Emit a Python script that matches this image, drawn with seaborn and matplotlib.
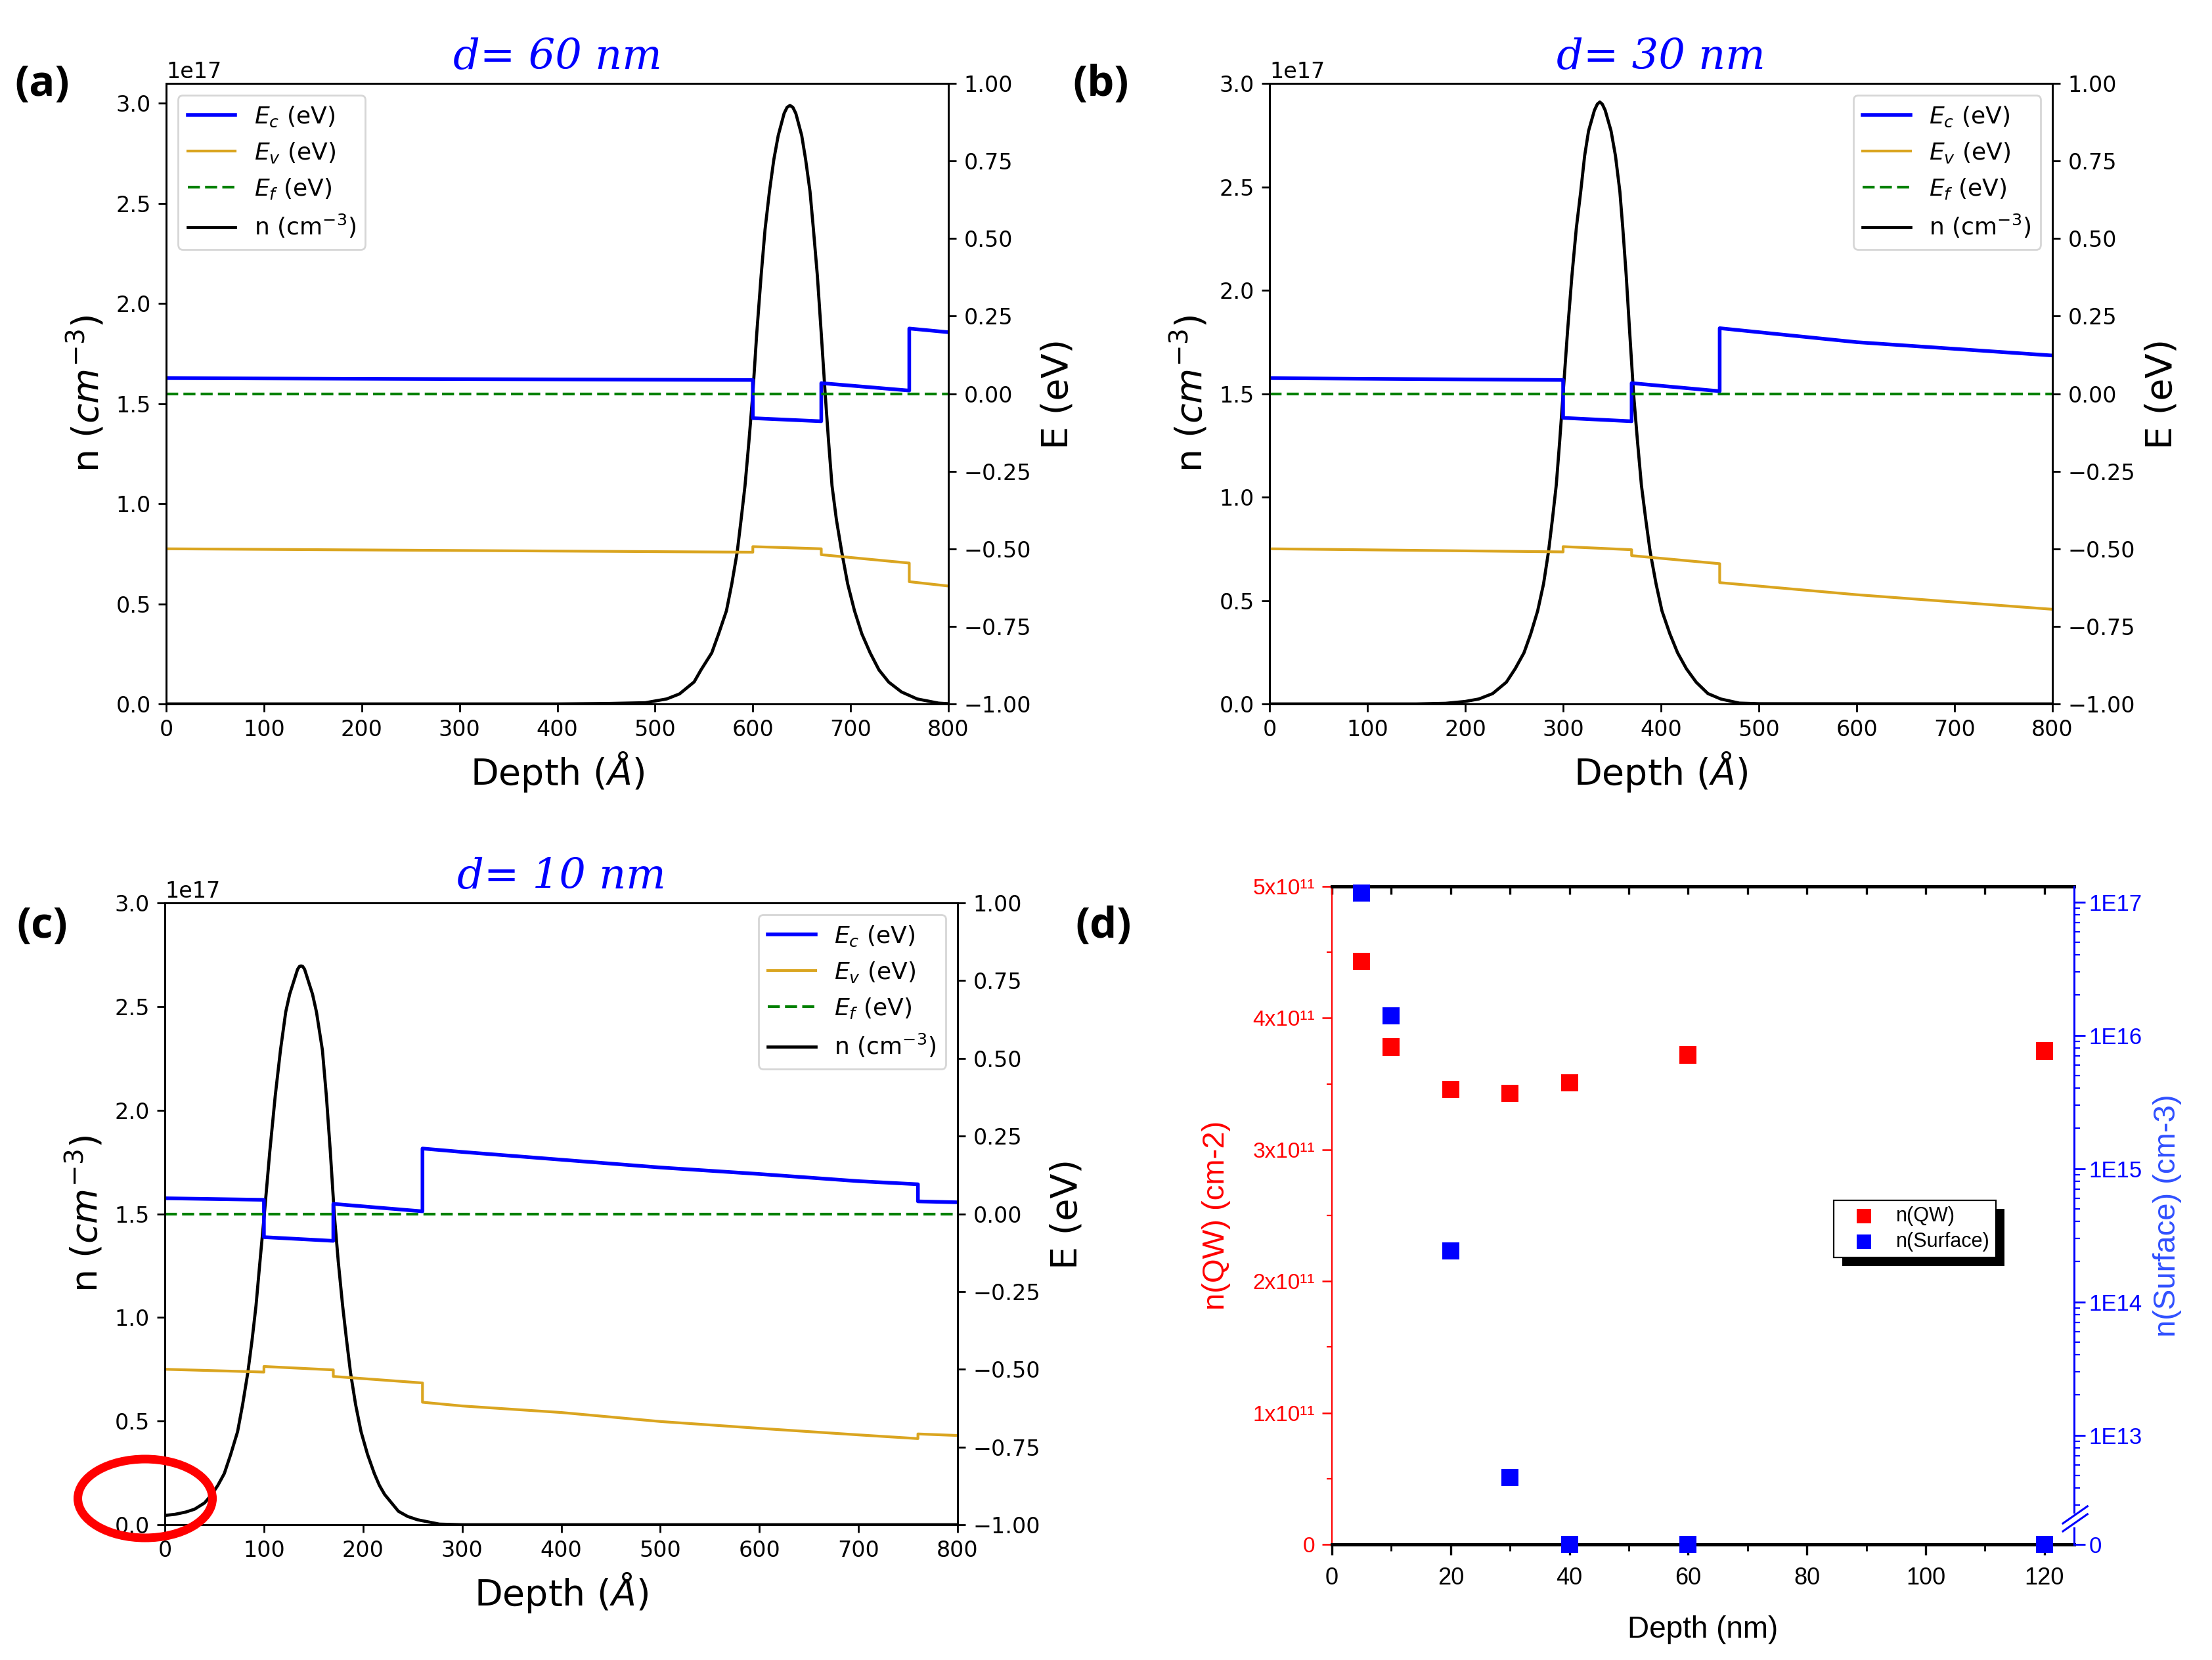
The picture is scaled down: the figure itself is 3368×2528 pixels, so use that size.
import numpy as np
import matplotlib
matplotlib.use("Agg")
import matplotlib.pyplot as plt
import seaborn as sns
from matplotlib.patches import Ellipse, Rectangle
from matplotlib.ticker import MultipleLocator, FixedLocator, NullFormatter

# ---------------- data ----------------
# electron density n (in 1e17 cm^-3) vs depth (Angstrom)
depth_n_60 = [0, 400, 450, 490, 512, 525, 540, 547, 558, 565, 573, 578.5, 584, 588, 592, 596, 600, 604,
              608.5, 612.5, 617, 621.5, 626, 632, 635, 638, 641, 644, 650, 654, 658.5, 662, 666, 670,
              674, 677.5, 681, 685.5, 691, 697, 704, 711.5, 720, 729, 739, 752, 768, 790, 800]
n_60 = [0, 0, 0.002, 0.006, 0.025, 0.05, 0.11, 0.17, 0.255, 0.35, 0.465, 0.6, 0.758, 0.92, 1.09, 1.31, 1.55, 1.85,
        2.14, 2.37, 2.56, 2.72, 2.84, 2.95, 2.98, 2.99, 2.98, 2.95, 2.84, 2.72, 2.56, 2.37, 2.14, 1.85,
        1.55, 1.31, 1.09, 0.92, 0.758, 0.6, 0.465, 0.35, 0.255, 0.17, 0.109, 0.06, 0.025, 0.004, 0.001]

depth_n_30 = [0, 150, 180, 200, 214, 228, 242, 251, 260, 267, 274, 280, 285, 289, 293, 296.5, 300, 304.5,
              309, 313.5, 318, 322, 326, 332, 335, 337.5, 340, 343, 349, 353.5, 358, 361, 364.5, 368,
              372, 376, 380, 384.5, 389, 395, 401, 409, 417, 426, 436, 448, 461, 480, 500, 800]
n_30 = [0, 0, 0.003, 0.012, 0.024, 0.05, 0.105, 0.17, 0.247, 0.34, 0.45, 0.58, 0.734, 0.89, 1.058, 1.27, 1.50, 1.80,
        2.07, 2.30, 2.477, 2.65, 2.77, 2.87, 2.90, 2.91, 2.90, 2.87, 2.77, 2.65, 2.477, 2.30, 2.07, 1.80,
        1.50, 1.27, 1.058, 0.89, 0.734, 0.58, 0.45, 0.34, 0.247, 0.17, 0.105, 0.05, 0.024, 0.004, 0.001, 0]

depth_n_10 = [0, 10, 21, 30, 40, 47.4, 53.5, 60, 66.5, 73.4, 78.5, 83.7, 88, 92, 96, 100.4, 105.9, 111.4,
              116.7, 122, 126, 130, 134, 136, 137.5, 139, 141, 145, 149, 153, 159, 163, 167, 171,
              175, 179.4, 183.4, 187.4, 192.5, 198, 204.5, 211.4, 216.5, 221.8, 235.7, 245, 255, 277, 300, 800]
n_10 = [0.045, 0.05, 0.061, 0.075, 0.105, 0.146, 0.19, 0.247, 0.34, 0.449, 0.58, 0.733, 0.89, 1.057, 1.27, 1.498, 1.80, 2.069,
        2.29, 2.474, 2.56, 2.62, 2.68, 2.694, 2.696, 2.694, 2.68, 2.62, 2.56, 2.474, 2.29, 2.069, 1.80, 1.498,
        1.27, 1.057, 0.89, 0.733, 0.58, 0.449, 0.34, 0.247, 0.19, 0.146, 0.065, 0.04, 0.024, 0.003, 0, 0]

# conduction / valence band edges (eV) vs depth (Angstrom)
depth_ec_60 = [0, 600, 600, 670, 670, 760, 760, 800]
ec_60 = [0.050, 0.044, -0.079, -0.089, 0.034, 0.010, 0.210, 0.198]
depth_ev_60 = [0, 600, 600, 670, 670, 760, 760, 800]
ev_60 = [-0.500, -0.511, -0.493, -0.500, -0.519, -0.546, -0.606, -0.620]

depth_ec_30 = [0, 300, 300, 370, 370, 460, 460, 600, 800]
ec_30 = [0.050, 0.044, -0.078, -0.089, 0.034, 0.008, 0.211, 0.166, 0.123]
depth_ev_30 = [0, 300, 300, 370, 370, 460, 460, 600, 800]
ev_30 = [-0.500, -0.510, -0.493, -0.503, -0.522, -0.548, -0.609, -0.648, -0.695]

depth_ec_10 = [0, 100, 100, 170, 170, 260, 260, 300, 400, 500, 600, 700, 760, 760, 800]
ec_10 = [0.050, 0.045, -0.075, -0.087, 0.032, 0.008, 0.210, 0.199, 0.174, 0.149, 0.128, 0.105, 0.095, 0.040, 0.037]
depth_ev_10 = [0, 100, 100, 170, 170, 260, 260, 300, 400, 500, 600, 700, 760, 760, 800]
ev_10 = [-0.500, -0.509, -0.491, -0.502, -0.523, -0.544, -0.606, -0.618, -0.639, -0.668, -0.690, -0.711, -0.723, -0.708, -0.713]

depth_ef = [0, 800]
ef = [0.0, 0.0]

# panel (d)
depth_nm = [5, 10, 20, 30, 40, 60, 120]
n_qw = [4.43e11, 3.78e11, 3.46e11, 3.43e11, 3.51e11, 3.72e11, 3.75e11]
n_surface = [1.17e17, 1.4e16, 2.4e14, 4.8e12, 0, 0, 0]

qw_ticks = [0, 1e11, 2e11, 3e11, 4e11, 5e11]
qw_labels = ["0", "1x10\u00b9\u00b9", "2x10\u00b9\u00b9", "3x10\u00b9\u00b9", "4x10\u00b9\u00b9", "5x10\u00b9\u00b9"]
surf_ticks = [0, 1e13, 1e14, 1e15, 1e16, 1e17]
surf_labels = ["0", "1E13", "1E14", "1E15", "1E16", "1E17"]

# ---------------- figure ----------------
W, H, DPI = 3368, 2528, 200
plt.rcParams['font.family'] = ['DejaVu Sans']
fig = plt.figure(figsize=(W / DPI, H / DPI), dpi=DPI)


def px_axes(l, r, t, b):
    return fig.add_axes([l / W, 1 - b / H, (r - l) / W, (b - t) / H])


band_panels = [
    (px_axes(253, 1444, 127, 1072), "d= 60 nm", 3.1, "upper left",
     depth_n_60, n_60, depth_ec_60, ec_60, depth_ev_60, ev_60),
    (px_axes(1933, 3125, 127, 1072), "d= 30 nm", 3.0, "upper right",
     depth_n_30, n_30, depth_ec_30, ec_30, depth_ev_30, ev_30),
    (px_axes(251, 1458, 1375, 2322), "d= 10 nm", 3.0, "upper right",
     depth_n_10, n_10, depth_ec_10, ec_10, depth_ev_10, ev_10),
]

for ax, title, ntop, legloc, xn, yn, xc, yc, xv, yv in band_panels:
    ax2 = ax.twinx()
    sns.lineplot(x=xn, y=np.array(yn) * 1e17, ax=ax, color="black", linewidth=1.7,
                 estimator=None, sort=False, legend=False)
    sns.lineplot(x=xc, y=yc, ax=ax2, color="blue", linewidth=2.0,
                 estimator=None, sort=False, legend=False)
    sns.lineplot(x=xv, y=yv, ax=ax2, color="goldenrod", linewidth=1.5,
                 estimator=None, sort=False, legend=False)
    sns.lineplot(x=depth_ef, y=ef, ax=ax2, color="green", linewidth=1.5, linestyle=(0, (4.4, 1.9)),
                 estimator=None, sort=False, legend=False)

    ax.set_xlim(0, 800)
    ax.set_ylim(0, ntop * 1e17)
    ax2.set_ylim(-1, 1)
    ax.xaxis.set_major_locator(MultipleLocator(100))
    ax2.yaxis.set_major_locator(MultipleLocator(0.25))
    for a in (ax, ax2):
        a.tick_params(labelsize=12, length=4.2, width=1.0, pad=4.2)
        for s in a.spines.values():
            s.set_linewidth(1.0)
    ax.yaxis.get_offset_text().set_fontsize(12)

    ax.set_xlabel(r"Depth ($\AA$)", fontsize=20, labelpad=4.8)
    ax.set_ylabel(r"n ($cm^{-3}$)", fontsize=20, labelpad=4.8)
    ax2.set_ylabel("E (eV)", fontsize=20, labelpad=4.8)
    ax.set_title(title, color="blue", fontsize=23, family="DejaVu Serif", style="italic", pad=8)

    handles = list(ax2.get_lines()) + [ax.get_lines()[0]]
    labels = [r"$E_c$ (eV)", r"$E_v$ (eV)", r"$E_f$ (eV)", r"n (cm$^{-3}$)"]
    ax2.legend(handles, labels, loc=legloc, fontsize=13)

# red circle around the surface density in (c)
fig.add_artist(Ellipse((221 / W, 1 - 2282 / H), width=205 / W, height=120 / H,
                       transform=fig.transFigure, fill=False, edgecolor="red", linewidth=4.7))

# ---------------- panel (d) ----------------
ZERO_POS = 12.18   # axis position (decades) of the "0" below the break
LIN_END = 12.40    # below 10**LIN_END the axis runs linearly to 0


def surf_fwd(v):
    v = np.asarray(v, dtype=float)
    top = 10 ** LIN_END
    logv = np.log10(np.where(v > top, v, top))
    return np.where(v > top, logv, ZERO_POS + v / top * (LIN_END - ZERO_POS))


def surf_inv(p):
    p = np.asarray(p, dtype=float)
    top = 10 ** LIN_END
    return np.where(p > LIN_END, 10 ** np.clip(p, None, 300),
                    (p - ZERO_POS) / (LIN_END - ZERO_POS) * top)


sans = "Liberation Sans"
axd = px_axes(2028, 3158, 1350, 2352)
axd2 = axd.twinx()
axd2.set_yscale("function", functions=(surf_fwd, surf_inv))

sns.scatterplot(x=depth_nm, y=n_qw, ax=axd, marker="s", color="red", s=88, edgecolor="none",
                label="n(QW)", legend=False, clip_on=False, zorder=6)
sns.scatterplot(x=depth_nm, y=n_surface, ax=axd2, marker="s", color="blue", s=88, edgecolor="none",
                label="n(Surface)", legend=False, clip_on=False, zorder=6)

axd.set_xlim(0, 125)
axd.set_ylim(0, 5e11)
axd2.set_ylim(0, 10 ** 17.116)

axd.set_xticks(range(0, 121, 20))
axd.xaxis.set_minor_locator(MultipleLocator(10))
axd.tick_params(axis="x", which="major", direction="out", length=5.8, width=1.2, labelsize=13,
                pad=6.5, labelfontfamily=sans)
axd.tick_params(axis="x", which="minor", direction="out", length=3.6, width=1.0)

axd.set_yticks(qw_ticks, qw_labels)
axd.yaxis.set_minor_locator(MultipleLocator(0.5e11))
axd.tick_params(axis="y", which="both", colors="red", direction="out", labelsize=12,
                labelfontfamily=sans, pad=4)
axd.tick_params(axis="y", which="major", length=5.4, width=0.9)
axd.tick_params(axis="y", which="minor", length=2.9, width=0.8)

surf_minor = [k * 10.0 ** e for e in range(12, 17) for k in range(2, 10) if 3e12 <= k * 10.0 ** e < 1.3e17]
axd2.set_yticks(surf_ticks, surf_labels)
axd2.yaxis.set_minor_locator(FixedLocator(surf_minor))
axd2.yaxis.set_minor_formatter(NullFormatter())
axd2.tick_params(axis="y", which="both", colors="blue", direction="out", labelsize=12.5,
                 labelfontfamily=sans, pad=2)
axd2.tick_params(axis="y", which="major", length=6, width=1.0)
axd2.tick_params(axis="y", which="minor", length=3.2, width=0.8)

topx = axd.secondary_xaxis("top")
topx.set_xticks(np.arange(0, 121, 10))
topx.xaxis.set_major_formatter(NullFormatter())
topx.tick_params(direction="in", length=4.3, width=1.2)
topx.spines["top"].set_linewidth(1.8)

axd.spines["right"].set_visible(False)
axd.spines["left"].set_color("red")
axd.spines["left"].set_linewidth(0.8)
axd.spines["top"].set_linewidth(1.8)
axd.spines["bottom"].set_linewidth(1.8)
for side in ("left", "top", "bottom"):
    axd2.spines[side].set_visible(False)
axd2.spines["right"].set_color("blue")
axd2.spines["right"].set_linewidth(1.1)

axd.set_xlabel("Depth (nm)", fontsize=16.5, family=sans, labelpad=14)
axd.set_ylabel("n(QW) (cm-2)", fontsize=17, family=sans, color="red", labelpad=12)
axd2.set_ylabel("n(Surface) (cm-3)", fontsize=17, family=sans, color="#3050ff", labelpad=6)

# axis break on the log axis
axd2.plot([1, 1], [0.030, 0.044], transform=axd2.transAxes, color="white", linewidth=2.5,
          clip_on=False, zorder=7)
for dy in (0.0, 0.012):
    axd2.plot([0.985, 1.018], [0.020 + dy, 0.046 + dy], transform=axd2.transAxes, color="blue",
              linewidth=1.1, clip_on=False, zorder=8)

h1, l1 = axd.get_legend_handles_labels()
h2, l2 = axd2.get_legend_handles_labels()
leg = axd2.legend(h1 + h2, l1 + l2, loc="upper left", bbox_to_anchor=(0.676, 0.523),
                  fancybox=False, edgecolor="black", framealpha=1, prop={"family": sans, "size": 11},
                  markerscale=0.85, borderpad=0.3, labelspacing=0.3, handlelength=2.4,
                  handletextpad=0.4, borderaxespad=0)
leg.get_frame().set_linewidth(0.8)
leg.set_zorder(10)

# panel letters
for txt, (x, y) in {"(a)": (64, 129), "(b)": (1676, 129), "(c)": (64, 1411), "(d)": (1680, 1411)}.items():
    fig.text(x / W, 1 - y / H, txt, ha="center", va="center", fontsize=23.5,
             fontweight="bold", family="Open Sans")

# Origin-style black drop shadow behind the (d) legend
fig.canvas.draw()
bb = leg.get_frame().get_window_extent()
inv = axd2.transAxes.inverted()
(x0, y0), (x1, y1) = inv.transform([[bb.x0 + 13, bb.y0 - 13], [bb.x1 + 13, bb.y1 - 13]])
axd2.add_patch(Rectangle((x0, y0), x1 - x0, y1 - y0, transform=axd2.transAxes, facecolor="black",
                         edgecolor="none", zorder=9, clip_on=False))

fig.savefig("out.png", dpi=DPI)
